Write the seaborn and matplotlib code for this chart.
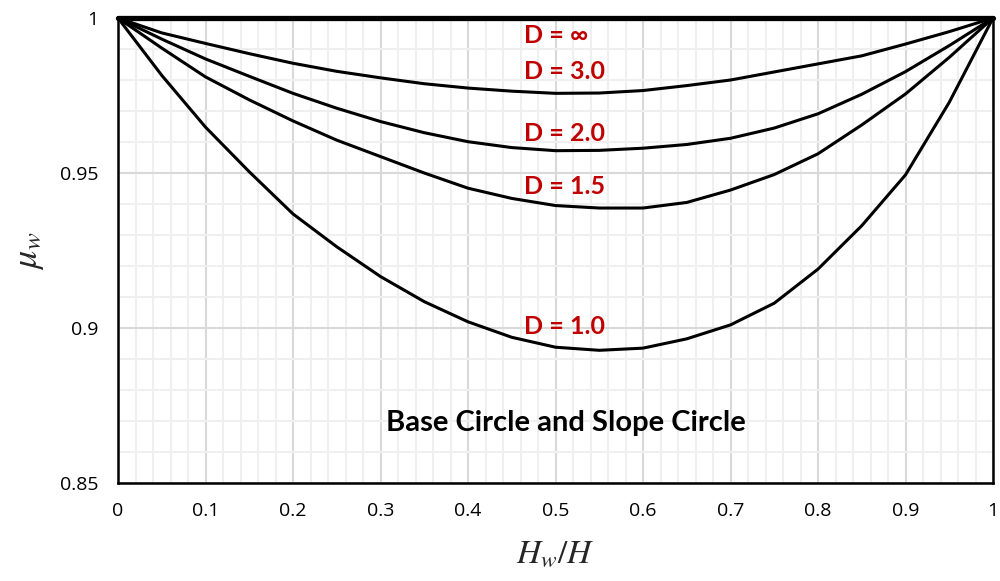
import numpy as np
import pandas as pd
import matplotlib
matplotlib.use("Agg")
import matplotlib.pyplot as plt
from matplotlib.ticker import FixedLocator, MultipleLocator
import seaborn as sns

# ---- data ----
hw_h = [0.0, 0.05, 0.1, 0.15, 0.2, 0.25, 0.3, 0.35, 0.4, 0.45, 0.5,
        0.55, 0.6, 0.65, 0.7, 0.75, 0.8, 0.85, 0.9, 0.95, 1.0]
mu_inf = [1.0] * 21
mu_d30 = [1.0, 0.9952, 0.9918, 0.9885, 0.9854, 0.9828, 0.9807, 0.9788, 0.9774, 0.9764, 0.9757,
          0.9758, 0.9766, 0.9782, 0.9800, 0.9826, 0.9852, 0.9878, 0.9916, 0.9956, 1.0]
mu_d20 = [1.0, 0.9932, 0.9868, 0.9812, 0.9757, 0.9709, 0.9666, 0.9630, 0.9601, 0.9582, 0.9572,
          0.9573, 0.9580, 0.9592, 0.9612, 0.9645, 0.9691, 0.9754, 0.9827, 0.9911, 1.0]
mu_d15 = [1.0, 0.9903, 0.9810, 0.9736, 0.9668, 0.9606, 0.9553, 0.9500, 0.9451, 0.9418, 0.9395,
          0.9387, 0.9387, 0.9405, 0.9445, 0.9495, 0.9562, 0.9655, 0.9755, 0.9873, 1.0]
mu_d10 = [1.0, 0.9815, 0.9648, 0.9504, 0.9368, 0.9262, 0.9166, 0.9085, 0.9020, 0.8970, 0.8938,
          0.8928, 0.8935, 0.8965, 0.9010, 0.9080, 0.9190, 0.9330, 0.9494, 0.9728, 1.0]

series_names = ["D = ∞", "D = 3.0", "D = 2.0", "D = 1.5", "D = 1.0"]
series_vals = [mu_inf, mu_d30, mu_d20, mu_d15, mu_d10]
label_x = [0.464, 0.464, 0.464, 0.464, 0.464]
label_y = [0.9942, 0.9826, 0.9629, 0.9455, 0.9006]

x_ticks = [0, 0.1, 0.2, 0.3, 0.4, 0.5, 0.6, 0.7, 0.8, 0.9, 1.0]
x_tick_labels = ["0", "0.1", "0.2", "0.3", "0.4", "0.5", "0.6", "0.7", "0.8", "0.9", "1"]
y_ticks = [0.85, 0.9, 0.95, 1.0]
y_tick_labels = ["0.85", "0.9", "0.95", "1"]
title_text = "Base Circle and Slope Circle"

df = pd.concat([pd.DataFrame({"x": hw_h, "y": v, "D": n})
                for n, v in zip(series_names, series_vals)], ignore_index=True)

sns.set_style("white")
plt.rcParams["font.family"] = ["Open Sans", "DejaVu Sans"]
plt.rcParams["mathtext.fontset"] = "stix"

fig = plt.figure(figsize=(10, 5.81), dpi=100)
ax = fig.add_axes([0.118, 0.1687, 0.875, 0.8003])

widths = {"D = ∞": 3.8}
for n in series_names:
    sns.lineplot(data=df[df["D"] == n], x="x", y="y", ax=ax, color="black",
                 linewidth=widths.get(n, 2.2), legend=False, zorder=5)
for ln in ax.lines:
    ln.set_clip_on(False)
    ln.set_solid_joinstyle("round")

ax.set_xlim(0, 1)
ax.set_ylim(0.85, 1.0)

ax.xaxis.set_major_locator(FixedLocator(x_ticks))
ax.set_xticklabels(x_tick_labels)
ax.yaxis.set_major_locator(FixedLocator(y_ticks))
ax.set_yticklabels(y_tick_labels)
ax.xaxis.set_minor_locator(MultipleLocator(0.02))
ax.yaxis.set_minor_locator(MultipleLocator(0.01))

ax.grid(which="major", color="#d9d9d9", linewidth=1.5, zorder=0)
ax.grid(which="minor", color="#efefef", linewidth=1.5, zorder=0)
ax.set_axisbelow(True)

ax.tick_params(which="major", direction="inout", length=10, width=1.6,
               labelsize=14, colors="black", pad=9)
ax.tick_params(which="minor", length=0)

for s in ["left", "bottom", "right", "top"]:
    ax.spines[s].set_color("black")
    ax.spines[s].set_linewidth(1.8)

ax.set_xlabel(r"$H_w/H$", fontsize=24, labelpad=12)
ax.set_ylabel(r"$\mu_w$", fontsize=26, labelpad=10)

bold_family = ["Lato", "DejaVu Sans"]
for n, lx, ly in zip(series_names, label_x, label_y):
    ax.text(lx, ly, n, color="#c00000", fontsize=18, fontweight="bold",
            ha="left", va="center", zorder=6, family=bold_family)

ax.text(0.512, 0.8694, title_text, color="black", fontsize=21, fontweight="bold",
        ha="center", va="center", zorder=6, family=bold_family)

fig.savefig("out.png", dpi=100)
